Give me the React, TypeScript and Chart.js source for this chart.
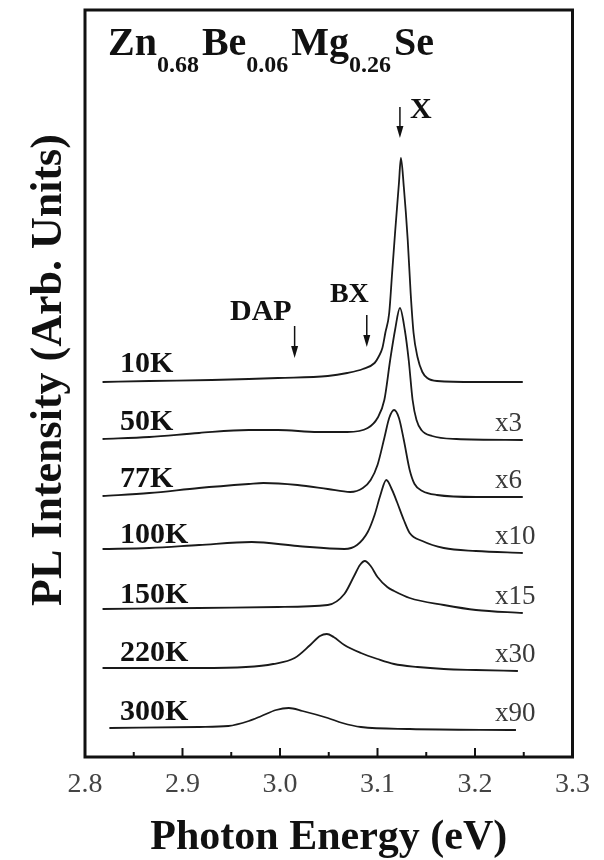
import React, { useEffect, useRef } from "react";
import { Chart, registerables } from "chart.js";

Chart.register(...registerables);

const SERIF = '"Liberation Serif", "Times New Roman", serif';

// Photon-energy axis (eV)
const xTicks = [2.8, 2.9, 3.0, 3.1, 3.2, 3.3];

// Spectrum labels, magnification factors and vertical stacking offsets (arb. units)
const temperatures = ["10K", "50K", "77K", "100K", "150K", "220K", "300K"];
const multipliers = ["", "x3", "x6", "x10", "x15", "x30", "x90"];
const offsets = [375, 317, 260, 204, 144, 86, 27];

// PL spectra: photon energy (eV) and intensity above each curve's baseline
const energy10K = [2.818, 2.866, 2.93, 2.968, 2.998, 3.049, 3.069, 3.085, 3.097, 3.101, 3.105, 3.108, 3.112, 3.115, 3.118, 3.122, 3.124, 3.127, 3.131, 3.134, 3.137, 3.141, 3.146, 3.151, 3.161, 3.201, 3.249];
const pl10K = [0, 1, 2, 3, 4, 6, 9, 13, 19, 25, 34, 49, 69, 109, 149, 199, 224, 195, 142, 89, 49, 25, 10, 4, 1, 0, 0];

const energy50K = [2.818, 2.866, 2.917, 2.968, 2.998, 3.039, 3.069, 3.09, 3.1, 3.107, 3.113, 3.118, 3.123, 3.128, 3.132, 3.136, 3.14, 3.145, 3.156, 3.181, 3.249];
const pl50K = [1, 3, 7, 10, 10, 8, 8, 12, 22, 40, 80, 110, 132, 110, 80, 40, 20, 10, 4, 1, 0];

const energy77K = [2.818, 2.866, 2.917, 2.968, 2.983, 3.018, 3.049, 3.072, 3.085, 3.093, 3.1, 3.107, 3.112, 3.117, 3.122, 3.127, 3.133, 3.138, 3.146, 3.161, 3.201, 3.249];
const pl77K = [1, 4, 9, 13, 14, 12, 8, 5, 9, 17, 32, 59, 79, 87, 79, 57, 27, 13, 6, 2, 0, 0];

const energy100K = [2.818, 2.866, 2.917, 2.971, 3.018, 3.066, 3.079, 3.09, 3.097, 3.103, 3.109, 3.115, 3.12, 3.127, 3.133, 3.146, 3.168, 3.201, 3.249];
const pl100K = [4, 5, 8, 11, 7, 4, 8, 21, 38, 58, 73, 63, 51, 33, 20, 12, 5, 2, 0];

const energy150K = [2.818, 2.917, 2.998, 3.049, 3.066, 3.076, 3.082, 3.087, 3.093, 3.1, 3.11, 3.117, 3.133, 3.168, 3.201, 3.249];
const pl150K = [4, 5, 6, 8, 19, 37, 48, 52, 47, 36, 26, 22, 15, 8, 3, 0];

const energy220K = [2.818, 2.917, 2.965, 2.993, 3.015, 3.031, 3.041, 3.048, 3.055, 3.066, 3.083, 3.1, 3.117, 3.141, 3.168, 3.201, 3.244];
const pl220K = [3, 3, 4, 7, 13, 26, 35, 37, 34, 26, 18, 12, 7, 4, 2, 1, 0];

const energy300K = [2.825, 2.917, 2.947, 2.968, 2.981, 2.996, 3.009, 3.023, 3.049, 3.064, 3.083, 3.133, 3.242];
const pl300K = [2, 3, 4, 9, 14, 20, 22, 19, 12, 7, 3, 1, 0];

const energies = [energy10K, energy50K, energy77K, energy100K, energy150K, energy220K, energy300K];
const intensities = [pl10K, pl50K, pl77K, pl100K, pl150K, pl220K, pl300K];

// Peak markers (eV)
const markerLabels = ["DAP", "BX", "X"];
const markerEnergies = [3.015, 3.089, 3.123];

function drawArrow(ctx: CanvasRenderingContext2D, x: number, y0: number, y1: number) {
  ctx.beginPath();
  ctx.lineWidth = 1.5;
  ctx.moveTo(x, y0);
  ctx.lineTo(x, y1 - 8);
  ctx.stroke();
  ctx.beginPath();
  ctx.moveTo(x - 3.5, y1 - 12);
  ctx.lineTo(x + 3.5, y1 - 12);
  ctx.lineTo(x, y1);
  ctx.closePath();
  ctx.fill();
}

const decorations = {
  id: "decorations",
  afterDraw(chart: any) {
    const { ctx, chartArea } = chart;
    const { left, right, top, bottom } = chartArea;
    const xs = chart.scales.x;
    const ys = chart.scales.y;
    ctx.save();

    // frame
    ctx.strokeStyle = "#111";
    ctx.lineWidth = 3;
    ctx.strokeRect(left, top, right - left, bottom - top);

    // inward tick marks, majors at labelled ticks and minors halfway between
    ctx.lineWidth = 2;
    const vals = xs.ticks.map((t: any) => t.value);
    for (let i = 0; i < vals.length; i++) {
      if (i > 0 && i < vals.length - 1) {
        const px = xs.getPixelForValue(vals[i]);
        ctx.beginPath();
        ctx.moveTo(px, bottom);
        ctx.lineTo(px, bottom - 9);
        ctx.stroke();
      }
      if (i < vals.length - 1) {
        const px = xs.getPixelForValue((vals[i] + vals[i + 1]) / 2);
        ctx.beginPath();
        ctx.moveTo(px, bottom);
        ctx.lineTo(px, bottom - 5);
        ctx.stroke();
      }
    }

    // temperature labels and magnification factors
    ctx.textBaseline = "alphabetic";
    temperatures.forEach((t, i) => {
      const base = ys.getPixelForValue(offsets[i]);
      ctx.font = `bold 30px ${SERIF}`;
      ctx.textAlign = "left";
      ctx.fillStyle = "#111";
      ctx.fillText(t, 120, base - 10);
      if (multipliers[i]) {
        ctx.font = `27px ${SERIF}`;
        ctx.fillStyle = "#3a3a3a";
        ctx.fillText(multipliers[i], 495, base - 9);
      }
    });

    // peak markers
    ctx.fillStyle = "#111";
    ctx.strokeStyle = "#111";
    const mx = markerEnergies.map((e) => xs.getPixelForValue(e));
    drawArrow(ctx, mx[0], 326, 358);
    drawArrow(ctx, mx[1], 315, 347);
    drawArrow(ctx, mx[2], 107, 138);
    ctx.font = `bold 30px ${SERIF}`;
    ctx.textAlign = "right";
    ctx.fillText(markerLabels[0], mx[0] - 3, 320);
    ctx.font = `bold 28px ${SERIF}`;
    ctx.fillText(markerLabels[1], mx[1] + 2, 302);
    ctx.font = `bold 30px ${SERIF}`;
    ctx.textAlign = "left";
    ctx.fillText(markerLabels[2], mx[2] + 10, 118);

    // sample composition
    const parts: [string, boolean][] = [
      ["Zn", false], ["0.68", true], ["Be", false], ["0.06", true], ["Mg", false], ["0.26", true], ["Se", false],
    ];
    let cx = 108;
    for (const [txt, sub] of parts) {
      ctx.font = sub ? `bold 24px ${SERIF}` : `bold 40px ${SERIF}`;
      ctx.fillText(txt, cx, sub ? 72 : 55);
      cx += ctx.measureText(txt).width + (sub ? 3 : 0);
    }

    // axis titles
    ctx.font = `bold 42px ${SERIF}`;
    ctx.textAlign = "center";
    ctx.fillText("Photon Energy (eV)", (left + right) / 2, 849);
    ctx.save();
    ctx.translate(50, 370);
    ctx.rotate(-Math.PI / 2);
    ctx.font = `bold 44px ${SERIF}`;
    ctx.textBaseline = "middle";
    ctx.fillText("PL Intensity (Arb. Units)", 0, 0);
    ctx.restore();

    ctx.restore();
  },
};

export default function App() {
  const canvasRef = useRef<HTMLCanvasElement | null>(null);

  useEffect(() => {
    const canvas = canvasRef.current;
    if (!canvas) return;
    Chart.defaults.font.family = SERIF;

    const datasets = temperatures.map((t, i) => ({
      label: t,
      data: energies[i].map((e, j) => ({ x: e, y: offsets[i] + intensities[i][j] })),
      borderColor: "#1a1a1a",
      borderWidth: 1.8,
      pointRadius: 0,
      fill: false,
      cubicInterpolationMode: "monotone" as const,
    }));

    const chart = new Chart(canvas, {
      type: "line",
      data: { datasets },
      options: {
        animation: false,
        responsive: false,
        events: [],
        layout: { padding: { left: 85, right: 27, top: 10, bottom: 0 } },
        plugins: { legend: { display: false }, tooltip: { enabled: false } },
        scales: {
          x: {
            type: "linear",
            min: 2.8,
            max: 3.3,
            grid: { display: false, drawTicks: false },
            border: { display: false },
            afterBuildTicks: (s: any) => {
              s.ticks = xTicks.map((v) => ({ value: v }));
            },
            afterFit: (s: any) => {
              s.height = 103;
            },
            ticks: {
              autoSkip: false,
              maxRotation: 0,
              padding: 14,
              color: "#444",
              font: { family: SERIF, size: 28, lineHeight: 1 },
              callback: (v: any) => Number(v).toFixed(1),
            },
          },
          y: { display: false, min: 0, max: 747 },
        },
      },
      plugins: [decorations],
    });

    return () => chart.destroy();
  }, []);

  return (
    <div style={{ position: "absolute", left: 0, top: 0, width: 604, height: 860, background: "#fff" }}>
      <canvas ref={canvasRef} width={604} height={860} style={{ width: 604, height: 860, display: "block" }} />
    </div>
  );
}
